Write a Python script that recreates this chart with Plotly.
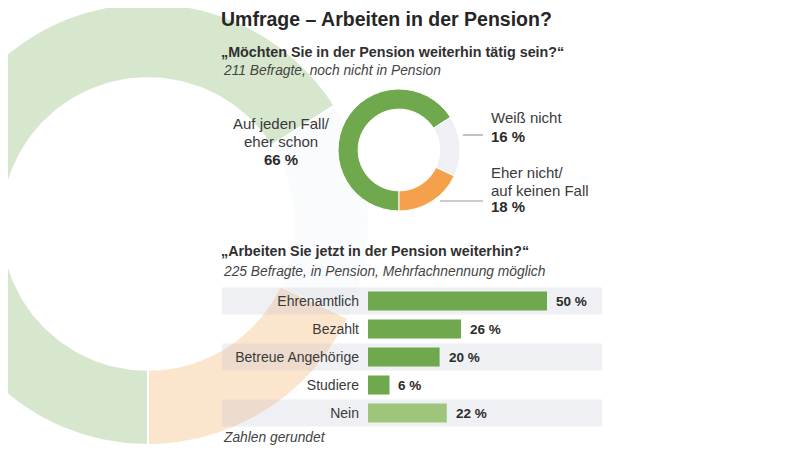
import numpy as np
import plotly.graph_objects as go

W, H = 800, 452
OFF = 8  # page body margin of the browser

# ---------------- data ----------------
title = "Umfrage – Arbeiten in der Pension?"
q1 = "„Möchten Sie in der Pension weiterhin tätig sein?“"
q1_note = "211 Befragte, noch nicht in Pension"
q2 = "„Arbeiten Sie jetzt in der Pension weiterhin?“"
q2_note = "225 Befragte, in Pension, Mehrfachnennung möglich"
footnote = "Zahlen gerundet"

donut_labels = ["Auf jeden Fall/<br>eher schon", "Weiß nicht", "Eher nicht/<br>auf keinen Fall"]
donut_values = [66, 16, 18]

bar_categories = ["Ehrenamtlich", "Bezahlt", "Betreue Angehörige", "Studiere", "Nein"]
bar_values = [50, 26, 20, 6, 22]

# ---------------- styles ----------------
FONT = "Arial, Liberation Sans, sans-serif"
donut_colors = ["#70a84e", "#eef0f4", "#f5a14c"]
bar_colors = ["#70a84e", "#70a84e", "#70a84e", "#70a84e", "#9fc47b"]
faded_alpha = 0.28


def px(x):
    return (x - OFF) / W


def py(y):
    return 1 - (y - OFF) / H


def rgba(hexcol, a):
    h = hexcol.lstrip("#")
    r, g, b = int(h[0:2], 16), int(h[2:4], 16), int(h[4:6], 16)
    return f"rgba({r},{g},{b},{a})"


fig = go.Figure()

# ---- big faded background donut (same data, enlarged) on pixel axes ----
BIG_CX, BIG_CY, BIG_R, HOLE = 148, 224, 221, 0.66
total = sum(donut_values)
cum = 0
for val, col in zip(donut_values, donut_colors):
    f0, f1 = cum / total, (cum + val) / total
    cum += val
    # clockwise from 6 o'clock
    ang = np.radians(180 + 360 * np.linspace(f0, f1, 160))
    xo = BIG_CX + BIG_R * np.sin(ang)
    yo = BIG_CY - BIG_R * np.cos(ang)
    xi = BIG_CX + BIG_R * HOLE * np.sin(ang[::-1])
    yi = BIG_CY - BIG_R * HOLE * np.cos(ang[::-1])
    fig.add_trace(go.Scatter(
        x=np.concatenate([xo, xi, xo[:1]]), y=np.concatenate([yo, yi, yo[:1]]),
        mode="lines", fill="toself", fillcolor=rgba(col, faded_alpha),
        line=dict(color="white", width=2), hoverinfo="skip", showlegend=False,
        xaxis="x", yaxis="y"))

# ---- small donut ----
CX, CY, R = 399, 150, 61
fig.add_trace(go.Pie(
    values=donut_values, labels=[l.replace("<br>", " ") for l in donut_labels],
    hole=0.67, sort=False, direction="clockwise", rotation=180,
    marker=dict(colors=donut_colors, line=dict(color="white", width=1)),
    textinfo="none", hoverinfo="skip", showlegend=False,
    domain=dict(x=[px(CX - R), px(CX + R)], y=[py(CY + R), py(CY - R)])))

# ---- bars ----
PX_PER_UNIT = 3.58
X0_PX, XL_PX, XR_PX = 368, 222, 602
x_lo = -(X0_PX - XL_PX) / PX_PER_UNIT
x_hi = (XR_PX - X0_PX) / PX_PER_UNIT
fig.add_trace(go.Bar(
    x=bar_values, y=bar_categories, orientation="h",
    marker=dict(color=bar_colors, line=dict(width=0)), width=0.68,
    xaxis="x2", yaxis="y2", hoverinfo="skip", showlegend=False))

annotations = []
shapes = []

# value labels for bars
for cat, v in zip(bar_categories, bar_values):
    annotations.append(dict(
        x=v, y=cat, xref="x2", yref="y2", text=f"<b>{v} %</b>", showarrow=False,
        xanchor="left", yanchor="middle", xshift=7,
        font=dict(family=FONT, size=13.5, color="#2b2b2b")))

# stripes for alternate rows
for i in range(0, len(bar_categories), 2):
    shapes.append(dict(type="rect", xref="x2", yref="y2", x0=x_lo, x1=x_hi,
                       y0=i - 0.48, y1=i + 0.48, layer="below",
                       fillcolor="rgba(190,196,208,0.25)", line=dict(width=0)))

# ---- titles ----
def text(x, y, s, size, color="#2b2b2b", bold=False, italic=False, anchor="left"):
    if bold:
        s = f"<b>{s}</b>"
    if italic:
        s = f"<i>{s}</i>"
    annotations.append(dict(x=px(x), y=py(y), xref="paper", yref="paper", text=s,
                            showarrow=False, xanchor=anchor, yanchor="middle",
                            font=dict(family=FONT, size=size, color=color)))


text(219, 19, title, 19.5, color="#262626", bold=True)
text(219, 51.5, q1, 14.3, color="#303030", bold=True)
text(221, 71, q1_note, 13.8, color="#444444", italic=True)
text(219, 250.5, q2, 14.3, color="#303030", bold=True)
text(221, 271, q2_note, 13.8, color="#444444", italic=True)
text(221, 437, footnote, 13.8, color="#444444", italic=True)

# donut labels
label_pos = [(281, [123.5, 141.5, 159.5], "center"),
             (489, [117, 136], "left"),
             (489, [173, 190, 207], "left")]
for lab, val, (lx, ys, anc) in zip(donut_labels, donut_values, label_pos):
    lines = lab.split("<br>")
    for s, yy in zip(lines, ys):
        text(lx, yy, s, 15, color="#3a3a3a", anchor=anc)
    text(lx, ys[len(lines)], f"{val} %", 15, color="#2b2b2b", bold=True, anchor=anc)

# leader lines
for (x0, x1, yy) in [(463, 483, 135), (440, 483, 201)]:
    shapes.append(dict(type="line", xref="paper", yref="paper",
                       x0=px(x0), x1=px(x1), y0=py(yy), y1=py(yy),
                       line=dict(color="#9a9a9a", width=1.2)))

fig.update_layout(
    width=W, height=H, margin=dict(l=0, r=0, t=0, b=0),
    paper_bgcolor="white", plot_bgcolor="rgba(0,0,0,0)",
    xaxis=dict(domain=[0, 1], range=[OFF, W + OFF], visible=False, fixedrange=True),
    yaxis=dict(domain=[0, 1], range=[H + OFF, OFF], visible=False, fixedrange=True),
    xaxis2=dict(domain=[px(XL_PX), px(XR_PX)], range=[x_lo, x_hi], anchor="y2",
                visible=False, fixedrange=True),
    yaxis2=dict(domain=[py(427), py(287)], anchor="free", position=px(X0_PX),
                type="category", categoryorder="array", categoryarray=bar_categories,
                range=[len(bar_categories) - 0.5, -0.5],
                showgrid=False, zeroline=False, showline=False, ticks="",
                ticklabelstandoff=9,
                tickfont=dict(family=FONT, size=14, color="#3a3a3a")),
    annotations=annotations, shapes=shapes, showlegend=False,
)

fig.write_html("out.html")
